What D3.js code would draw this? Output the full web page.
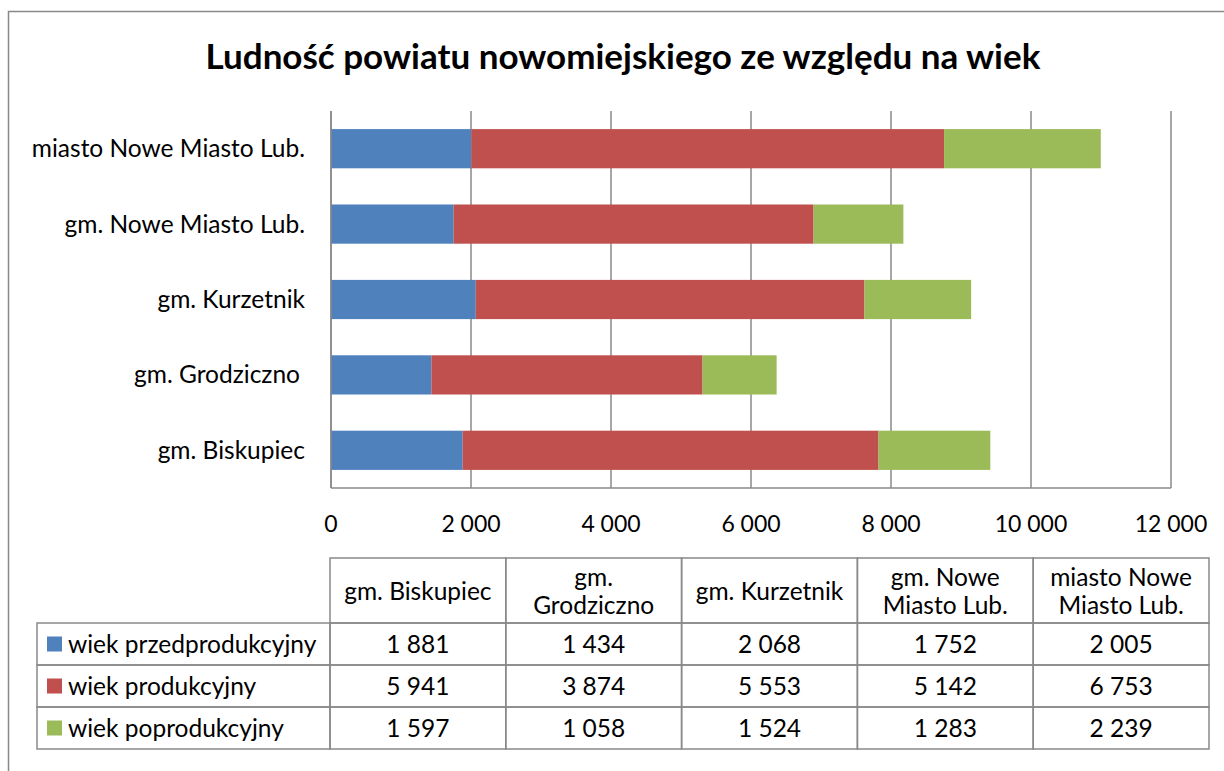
<!DOCTYPE html>
<html>
<head>
<meta charset="utf-8">
<script src="https://cdn.jsdelivr.net/npm/d3@7"></script>
<style>
  body { margin: 0; background: #fff; }
  svg { display: block; font-family: Lato, "Open Sans", sans-serif; }
</style>
</head>
<body>
<svg width="1224" height="771"></svg>
<script>
// chart data, in table order (bottom bar first)
var categories = ["gm. Biskupiec", "gm. Grodziczno", "gm. Kurzetnik", "gm. Nowe Miasto Lub.", "miasto Nowe Miasto Lub."];
var headerLines = [["gm. Biskupiec"], ["gm.", "Grodziczno"], ["gm. Kurzetnik"], ["gm. Nowe", "Miasto Lub."], ["miasto Nowe", "Miasto Lub."]];
var seriesNames = ["wiek przedprodukcyjny", "wiek produkcyjny", "wiek poprodukcyjny"];
var przed = [1881, 1434, 2068, 1752, 2005];
var prod = [5941, 3874, 5553, 5142, 6753];
var poprod = [1597, 1058, 1524, 1283, 2239];
var xTicks = [0, 2000, 4000, 6000, 8000, 10000, 12000];
var colors = ["#4f81bd", "#c0504d", "#9bbb59"];

function createChart() {
    var svg = d3.select("svg"),
        grey = "#898989",
        fs = 24.5;

    var values = [przed, prod, poprod];
    var rows = categories.map(function(c, i) {
        return { cat: c, przed: przed[i], prod: prod[i], poprod: poprod[i] };
    });
    var keys = ["przed", "prod", "poprod"];
    var stacked = d3.stack().keys(keys)(rows);

    var x = d3.scaleLinear().domain([0, 12000]).range([331, 1171]);
    // top category is drawn first from the top
    var y = d3.scaleBand()
        .domain(categories.slice().reverse())
        .range([111, 488])
        .paddingInner(0.48)
        .paddingOuter(0.24);

    var fmt = function(v) {
        return d3.format(",")(v).replace(/,/g, " ");
    };

    // outer frame (runs off the picture right and bottom)
    svg.append("rect")
        .attr("x", 8.5).attr("y", 11.5)
        .attr("width", 1300).attr("height", 900)
        .attr("fill", "none")
        .attr("stroke", grey)
        .attr("stroke-width", 1.5);

    // title
    svg.append("text")
        .attr("x", 623)
        .attr("y", 69)
        .attr("text-anchor", "middle")
        .attr("font-weight", "bold")
        .attr("font-size", 35)
        .text("Ludność powiatu nowomiejskiego ze względu na wiek");

    // gridlines
    svg.append("g")
        .selectAll("line")
        .data(xTicks)
        .enter().append("line")
        .attr("x1", function(d) { return x(d); })
        .attr("x2", function(d) { return x(d); })
        .attr("y1", 111)
        .attr("y2", 488)
        .attr("stroke", grey)
        .attr("stroke-width", 1.5);

    // bars
    svg.append("g")
        .selectAll("g")
        .data(stacked)
        .enter().append("g")
        .attr("fill", function(d, i) { return colors[i]; })
        .selectAll("rect")
        .data(function(d) { return d; })
        .enter().append("rect")
        .attr("x", function(d) { return x(d[0]); })
        .attr("y", function(d) { return y(d.data.cat); })
        .attr("width", function(d) { return x(d[1]) - x(d[0]); })
        .attr("height", y.bandwidth());

    // axes lines
    svg.append("line")
        .attr("x1", 331).attr("x2", 1171)
        .attr("y1", 488).attr("y2", 488)
        .attr("stroke", grey).attr("stroke-width", 1.5);
    svg.append("line")
        .attr("x1", 331).attr("x2", 331)
        .attr("y1", 111).attr("y2", 488)
        .attr("stroke", grey).attr("stroke-width", 1.5);

    // tick labels
    svg.append("g")
        .selectAll("text")
        .data(xTicks)
        .enter().append("text")
        .attr("x", function(d) { return x(d); })
        .attr("y", 524)
        .attr("dy", "0.35em")
        .attr("text-anchor", "middle")
        .attr("font-size", 23)
        .text(fmt);

    // category labels
    svg.append("g")
        .selectAll("text")
        .data(categories)
        .enter().append("text")
        .attr("x", function(d) { return d === "gm. Grodziczno" ? 300 : 305; })
        .attr("y", function(d) { return y(d) + y.bandwidth() / 2; })
        .attr("dy", "0.35em")
        .attr("text-anchor", "end")
        .attr("font-size", fs)
        .text(function(d) { return d; });

    // data table
    var colX = d3.scaleBand().domain(categories).range([330, 1209]);
    var rowTop = [623, 665, 707];
    var rowH = 42;
    var t = svg.append("g")
        .attr("stroke", grey)
        .attr("stroke-width", 1.5);

    // header cells
    t.selectAll(".hcell")
        .data(categories)
        .enter().append("rect")
        .attr("x", function(d) { return colX(d); })
        .attr("y", 558)
        .attr("width", colX.bandwidth())
        .attr("height", 65)
        .attr("fill", "none");

    // body cells
    rowTop.forEach(function(top, r) {
        t.append("rect")
            .attr("x", 37).attr("y", top)
            .attr("width", 330 - 37).attr("height", rowH)
            .attr("fill", "none");
        t.selectAll(".c" + r)
            .data(categories)
            .enter().append("rect")
            .attr("x", function(d) { return colX(d); })
            .attr("y", top)
            .attr("width", colX.bandwidth())
            .attr("height", rowH)
            .attr("fill", "none");
    });

    // header text
    var ht = svg.append("g")
        .selectAll("text")
        .data(headerLines)
        .enter().append("text")
        .attr("text-anchor", "middle")
        .attr("font-size", fs)
        .attr("y", function(d) { return d.length === 1 ? 591 : 577; });
    ht.selectAll("tspan")
        .data(function(d, i) { return d.map(function(s) { return { s: s, i: i }; }); })
        .enter().append("tspan")
        .attr("x", function(d) { return colX(categories[d.i]) + colX.bandwidth() / 2; })
        .attr("dy", function(d, j) { return j === 0 ? "0.35em" : 28; })
        .text(function(d) { return d.s; });

    // legend rows and values
    seriesNames.forEach(function(name, r) {
        var cy = rowTop[r] + rowH / 2;
        svg.append("rect")
            .attr("x", 47).attr("y", cy - 7.5)
            .attr("width", 15).attr("height", 15)
            .attr("fill", colors[r]);
        svg.append("text")
            .attr("x", 68).attr("y", cy)
            .attr("dy", "0.35em")
            .attr("font-size", fs)
            .text(name);
        svg.append("g")
            .selectAll("text")
            .data(values[r])
            .enter().append("text")
            .attr("x", function(d, i) { return colX(categories[i]) + colX.bandwidth() / 2; })
            .attr("y", cy)
            .attr("dy", "0.35em")
            .attr("text-anchor", "middle")
            .attr("font-size", fs)
            .text(fmt);
    });
}

createChart();
</script>
</body>
</html>
